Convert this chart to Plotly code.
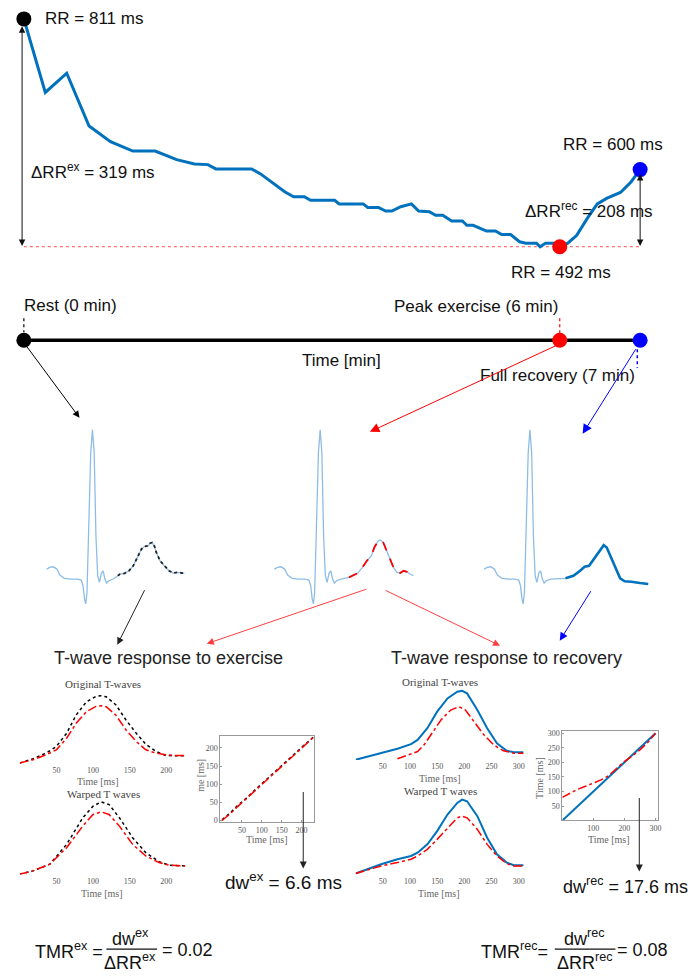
import plotly.graph_objects as go

W, H = 693, 976
SANS = "Liberation Sans, Arial, sans-serif"
SERIF = "Liberation Serif, Times New Roman, serif"
MBLUE = "#0072BD"
ECG_LIGHT = "#8dbde6"

# ---------------- data ----------------
# RR tachogram (schematic time axis, minutes) and RR in ms
rr_time_min = [0.0, 0.24, 0.48, 0.73, 0.97, 1.22, 1.47, 1.71, 1.91, 2.06, 2.15, 2.55, 2.65,
               2.82, 2.92, 3.02, 3.14, 3.21, 3.48, 3.53, 3.80, 3.85, 3.97, 4.05, 4.12, 4.22,
               4.34, 4.42, 4.54, 4.61, 4.69, 4.79, 4.91, 4.96, 5.03, 5.18, 5.28, 5.35, 5.45,
               5.55, 5.62, 5.74, 5.78, 5.84, 5.93, 6.0, 6.09, 6.19, 6.31, 6.42, 6.53, 6.68,
               6.80, 6.9]
rr_ms = [811, 708, 735, 661, 639, 626, 626, 614, 608, 607, 601, 601, 594,
         578, 569, 562, 562, 557, 557, 552, 552, 547, 547, 542, 542, 548,
         552, 542, 541, 536, 536, 528, 528, 522, 522, 514, 514, 509, 509,
         499, 497, 497, 492, 497, 497, 492, 497, 508, 532, 552, 560, 568,
         583, 600]
rr_key_time = [0, 6, 6.9]
rr_key_ms = [811, 492, 600]
rr_key_colors = ["black", "red", "blue"]
rr_min_ms = 492
timeline_time = [0, 6, 6.9]

# Single ECG beat (ms relative to R peak, mV)
ecg_qrs_ms = [-184, -172, -158, -143, -131, -113, -86, -59, -45, -38, -32, -27, -22, -14,
              -7, 0, 7, 14, 21, 28, 36, 43, 50, 57, 66, 84]
ecg_qrs_mv = [0.10, 0.117, 0.123, 0.10, 0.04, 0.007, 0, 0, -0.01, -0.067, -0.2, -0.25, -0.133,
              0.6, 1.267, 1.5, 1.267, 0.433, 0.033, -0.033, 0.06, 0.083, 0, -0.04, -0.017, 0]
tw_rest_ms = [102, 111, 129, 147, 164, 182, 197, 209, 224, 232, 240, 249, 257, 272, 290,
              308, 325, 343, 361, 370]
tw_rest_mv = [0.033, 0.05, 0.057, 0.083, 0.133, 0.217, 0.3, 0.327, 0.333, 0.36, 0.367,
              0.333, 0.267, 0.183, 0.133, 0.083, 0.06, 0.067, 0.06, 0.06]
tw_peak_ms = [116, 134, 152, 170, 188, 206, 218, 233, 241, 254, 268, 283, 295, 309, 322,
              336, 349, 361, 376]
tw_peak_mv = [0.017, 0.04, 0.06, 0.117, 0.183, 0.233, 0.317, 0.383, 0.393, 0.367, 0.283,
              0.183, 0.117, 0.067, 0.06, 0.083, 0.073, 0.05, 0.033]
tw_rec_ms = [143, 175, 202, 220, 238, 256, 274, 297, 309, 327, 345, 363, 381, 408, 443, 476]
tw_rec_mv = [0.007, 0.033, 0.083, 0.123, 0.133, 0.2, 0.267, 0.34, 0.317, 0.217, 0.117,
             0.007, -0.023, -0.027, -0.04, -0.05]

# Exercise: original and warped T-waves (normalised amplitude)
ex_orig_t = [0, 18, 36, 50, 64, 77, 91, 104, 111, 118, 131, 145, 159, 172, 186, 199, 213, 226]
ex_orig_rest = [0, 0.064, 0.147, 0.245, 0.441, 0.711, 0.907, 0.985, 0.995, 0.98, 0.863,
                0.637, 0.441, 0.279, 0.172, 0.113, 0.108, 0.108]
ex_orig_peak = [0, 0.049, 0.123, 0.196, 0.368, 0.588, 0.76, 0.838, 0.848, 0.833, 0.711,
                0.49, 0.319, 0.196, 0.147, 0.123, 0.113, 0.113]
ex_warp_t = [0, 18, 41, 64, 86, 100, 111, 122, 136, 154, 172, 190, 204, 226]
ex_warp_rest = [0, 0.046, 0.138, 0.413, 0.78, 0.94, 1.0, 0.963, 0.78, 0.505, 0.298, 0.174,
                0.124, 0.115]
ex_warp_peak = [0, 0.046, 0.138, 0.367, 0.665, 0.826, 0.862, 0.826, 0.665, 0.413, 0.252,
                0.161, 0.124, 0.115]
ex_path_t = [0, 20, 40, 60, 80, 100, 120, 140, 160, 180, 200, 230]
ex_path_rest = [2, 20, 42, 60, 81, 101, 122, 143, 161, 181, 201, 230]
ex_path_peak = [0, 18, 39, 59, 79, 99, 119, 140, 159, 179, 199, 229]

# Recovery: original and warped T-waves
rec_orig_t = [0, 22, 47, 77, 102, 114, 132, 150, 169, 187, 196, 205, 224, 242, 260, 278, 291, 309]
rec_orig_full = [0, 0.048, 0.096, 0.159, 0.226, 0.288, 0.457, 0.697, 0.889, 0.986, 1.0,
                 0.962, 0.721, 0.457, 0.24, 0.13, 0.111, 0.111]
rec_orig_peak_t = [77, 96, 114, 126, 138, 157, 175, 190, 202, 218, 236, 254, 272, 291, 309]
rec_orig_peak = [0.014, 0.072, 0.12, 0.216, 0.361, 0.577, 0.721, 0.769, 0.721, 0.553,
                 0.361, 0.216, 0.13, 0.096, 0.096]
rec_warp_t = [0, 22, 47, 77, 102, 114, 132, 150, 169, 187, 196, 205, 224, 242, 260, 278, 291, 309]
rec_warp_full = [0.009, 0.067, 0.133, 0.2, 0.244, 0.289, 0.4, 0.578, 0.8, 0.956, 1.0, 0.978,
                 0.778, 0.489, 0.267, 0.156, 0.12, 0.12]
rec_warp_peak = [0.009, 0.058, 0.111, 0.156, 0.2, 0.244, 0.333, 0.467, 0.622, 0.756, 0.778,
                 0.756, 0.6, 0.4, 0.244, 0.142, 0.111, 0.111]
rec_path_t = [0, 25, 50, 75, 100, 125, 150, 175, 200, 225, 250, 275, 300]
rec_path_full = [0, 25, 50, 75, 100, 125, 150, 175, 200, 225, 250, 275, 300]
rec_path_peak = [80, 95, 108, 118, 128, 140, 155, 180, 203, 222, 243, 268, 300]

# ---------------- helpers ----------------
layout = {}
annotations = []
shapes = []
traces = []


def lin(pa, va, pb, vb, p):
    return va + (p - pa) * (vb - va) / (pb - pa)


def add_axes(idx, box, xmap, ymap, xstyle=None, ystyle=None):
    left, top, right, bottom = box
    (pxa, vxa), (pxb, vxb) = xmap
    (pya, vya), (pyb, vyb) = ymap
    xr = [lin(pxa, vxa, pxb, vxb, left), lin(pxa, vxa, pxb, vxb, right)]
    yr = [lin(pya, vya, pyb, vyb, bottom), lin(pya, vya, pyb, vyb, top)]
    sfx = "" if idx == 1 else str(idx)
    xs = dict(domain=[left / W, right / W], range=xr, anchor="y" + sfx,
              showgrid=False, zeroline=False)
    ys = dict(domain=[1 - bottom / H, 1 - top / H], range=yr, anchor="x" + sfx,
              showgrid=False, zeroline=False)
    xs.update(xstyle or dict(visible=False))
    ys.update(ystyle or dict(visible=False))
    layout["xaxis" + sfx] = xs
    layout["yaxis" + sfx] = ys
    return "x" + sfx, "y" + sfx


def P(x, y):
    return x / W, 1 - y / H


def label(x, y, text, size=17, family=SANS, color="#111", xanchor="center",
          yanchor="middle", angle=0):
    px, py = P(x, y)
    annotations.append(dict(x=px, y=py, xref="paper", yref="paper", text=text,
                            showarrow=False, xanchor=xanchor, yanchor=yanchor,
                            textangle=angle, font=dict(size=size, family=family, color=color)))


def arrow(x0, y0, x1, y1, color, width=1.0, head=2, size=1.0, side="end"):
    px, py = P(x1, y1)
    annotations.append(dict(x=px, y=py, xref="paper", yref="paper", ax=x0 - x1, ay=y0 - y1,
                            axref="pixel", ayref="pixel", text="", showarrow=True,
                            arrowhead=head, arrowsize=size, arrowwidth=width,
                            arrowcolor=color, arrowside=side, standoff=0, startstandoff=0))


def seg(x0, y0, x1, y1, color, width=1.0, dash="solid"):
    a, b = P(x0, y0)
    c, d = P(x1, y1)
    shapes.append(dict(type="line", xref="paper", yref="paper", x0=a, y0=b, x1=c, y1=d,
                       line=dict(color=color, width=width, dash=dash)))


def line(xa, ya, x, y, color, width=1.5, dash="solid", mode="lines", **kw):
    traces.append(go.Scatter(x=x, y=y, xaxis=xa, yaxis=ya, mode=mode,
                             line=dict(color=color, width=width, dash=dash),
                             hoverinfo="skip", cliponaxis=False, **kw))


# ---------------- RR tachogram ----------------
xa, ya = add_axes(1, (0, 0, W, 290), ((24, 0), (563, 6)), ((17, 811), (246, 492)))
line(xa, ya, [rr_time_min[0], rr_key_time[-1]], [rr_min_ms, rr_min_ms],
     "rgba(255,0,0,0.7)", width=1, dash="dot")
line(xa, ya, rr_time_min, rr_ms, MBLUE, width=3)
traces.append(go.Scatter(x=rr_key_time, y=rr_key_ms, xaxis=xa, yaxis=ya, mode="markers",
                         marker=dict(size=15, color=rr_key_colors), cliponaxis=False,
                         hoverinfo="skip"))
for xv, top_v in [(-0.02, 803), (6.9, 596)]:
    annotations.append(dict(x=xv, y=rr_min_ms + 1, xref=xa, yref=ya, ax=xv, ay=top_v,
                            axref=xa, ayref=ya, text="", showarrow=True, arrowhead=2,
                            arrowsize=1.3, arrowwidth=1, arrowcolor="#111",
                            arrowside="end+start", standoff=0, startstandoff=0))
label(43, 17, "RR = 811 ms", xanchor="left")
label(29, 170, "ΔRR<sup>ex</sup> = 319 ms", xanchor="left")
label(617, 143, "RR = 600 ms")
label(592, 209, "ΔRR<sup>rec</sup> = 208 ms")
label(564, 272, "RR = 492 ms")

# ---------------- timeline ----------------
xa2, ya2 = add_axes(2, (0, 300, W, 380), ((24, 0), (563, 6)), ((340, 0), (330, 1)))
line(xa2, ya2, [timeline_time[0], timeline_time[-1]], [0, 0], "black", width=3.5)
traces.append(go.Scatter(x=timeline_time, y=[0, 0, 0], xaxis=xa2, yaxis=ya2, mode="markers",
                         marker=dict(size=15, color=rr_key_colors), cliponaxis=False,
                         hoverinfo="skip"))
seg(24, 318, 24, 332, "black", 1.2, "dot")
seg(563, 318, 563, 333, "red", 1.2, "dot")
seg(641, 349, 641, 368, "blue", 1.5, "dot")
label(22, 305, "Rest (0 min)", xanchor="left")
label(563, 306, "Peak exercise (6 min)", xanchor="right")
label(343, 360, "Time [min]")
label(561, 375, "Full recovery (7 min)")
arrow(26, 345, 80, 418, "black", 1, 2, 1.4)
arrow(560, 345, 372, 432, "red", 1, 2, 1.9)
arrow(640, 348, 586, 434, "blue", 1, 2, 1.9)

# ---------------- ECG beats ----------------
ecg_defs = [
    (93, 40, 195, tw_rest_ms, tw_rest_mv, "#222", 1.8, "dot"),
    (322, 265, 430, tw_peak_ms, tw_peak_mv, "red", 1.8, "dash"),
    (533, 465, 665, tw_rec_ms, tw_rec_mv, MBLUE, 2.6, "solid"),
]
for k, (rpx, lft, rgt, tms, tmv, col, w, dsh) in enumerate(ecg_defs):
    xe, ye = add_axes(3 + k, (lft, 420, rgt, 615), ((rpx, 0), (rpx + 1, 4)),
                      ((580, 0), (579, 0.01)))
    line(xe, ye, ecg_qrs_ms + tms, ecg_qrs_mv + tmv, ECG_LIGHT, width=1.3)
    line(xe, ye, tms, tmv, col, width=w, dash=dsh)

arrow(146, 590, 118, 646, "#222", 1, 2, 1.4)
arrow(369, 590, 208, 645, "rgba(255,0,0,0.75)", 1, 2, 1.4)
arrow(387, 591, 503, 647, "rgba(255,0,0,0.75)", 1, 2, 1.4)
arrow(595, 591, 563, 642, "blue", 1, 2, 1.6)

label(169, 659, "T-wave response to exercise", size=18, color="#222")
label(509, 659, "T-wave response to recovery", size=18, color="#222")

# ---------------- small T-wave panels ----------------
TICKF = dict(size=8, family=SERIF, color="#555")


def tick_x(vals):
    return dict(visible=True, showline=False, ticks="", showticklabels=True,
                tickvals=vals, tickfont=TICKF)


def box_axis(vals):
    return dict(visible=True, showline=True, mirror=True, linecolor="#999", linewidth=1,
                ticks="inside", ticklen=2, tickcolor="#999", tickvals=vals, tickfont=TICKF)


xe1, ye1 = add_axes(6, (19.8, 690, 186.7, 766), ((56.7, 50), (167.3, 200)),
                    ((765, 0), (697, 1)), xstyle=tick_x([50, 100, 150, 200]))
line(xe1, ye1, ex_orig_t, ex_orig_rest, "black", 1.5, "dot")
line(xe1, ye1, ex_orig_t, ex_orig_peak, "red", 1.5, "dashdot")

xe2, ye2 = add_axes(7, (19.8, 800, 186.7, 877), ((56.7, 50), (167.3, 200)),
                    ((876.7, 0), (804, 1)), xstyle=tick_x([50, 100, 150, 200]))
line(xe2, ye2, ex_warp_t, ex_warp_rest, "black", 1.5, "dot")
line(xe2, ye2, ex_warp_t, ex_warp_peak, "red", 1.5, "dashdot")

xr1, yr1 = add_axes(8, (357.7, 680, 526.7, 762), ((385, 50), (521.7, 300)),
                    ((761.7, 0), (692.3, 1)), xstyle=tick_x([50, 100, 150, 200, 250, 300]))
line(xr1, yr1, rec_orig_t, rec_orig_full, MBLUE, 2)
line(xr1, yr1, rec_orig_peak_t, rec_orig_peak, "red", 1.5, "dashdot")

xr2, yr2 = add_axes(9, (357.7, 795, 526.7, 877), ((385, 50), (521.7, 300)),
                    ((876.7, 0), (801.7, 1)), xstyle=tick_x([50, 100, 150, 200, 250, 300]))
line(xr2, yr2, rec_warp_t, rec_warp_full, MBLUE, 2)
line(xr2, yr2, rec_warp_t, rec_warp_peak, "red", 1.5, "dashdot")

# warping paths
xw1, yw1 = add_axes(10, (221.7, 737.3, 316, 824.3), ((243.3, 50), (303.3, 200)),
                    ((822.7, 0), (749.7, 200)), xstyle=box_axis([50, 100, 150, 200]),
                    ystyle=box_axis([0, 50, 100, 150, 200]))
line(xw1, yw1, ex_path_t, ex_path_rest, "black", 1.5, "dot")
line(xw1, yw1, ex_path_t, ex_path_peak, "red", 1.5, "dashdot")

xw2, yw2 = add_axes(11, (565.7, 732.7, 661.7, 822.7), ((596.7, 100), (659.3, 300)),
                    ((808.3, 50), (735, 300)), xstyle=box_axis([100, 200, 300]),
                    ystyle=box_axis([50, 100, 150, 200, 250, 300]))
line(xw2, yw2, rec_path_t, rec_path_full, MBLUE, 2)
line(xw2, yw2, rec_path_t, rec_path_peak, "red", 1.5, "dashdot")

# panel titles / axis titles (serif)
for (x, y, t) in [(104, 686, "Original T-waves"), (104, 796, "Warped T waves"),
                  (443, 683, "Original T-waves"), (443, 793, "Warped T waves")]:
    label(x, y, t, size=11, family=SERIF, color="#444")
for (x, y) in [(99, 784), (103, 896), (443, 781), (442, 896), (269, 842), (613, 842)]:
    label(x, y, "Time [ms]", size=10, family=SERIF, color="#666")
label(201, 777, "me [ms]", size=10, family=SERIF, color="#666", angle=-90)
label(542, 780, "Time [ms]", size=10, family=SERIF, color="#666", angle=-90)

arrow(305, 793, 305, 871, "#222", 1, 2, 1.4)
arrow(643, 799, 643, 874, "#222", 1, 2, 1.4)
label(224, 884, "dw<sup>ex</sup> = 6.6 ms", size=19, xanchor="left")
label(564, 888, "dw<sup>rec</sup> = 17.6 ms", size=18, xanchor="left")

# ---------------- TMR formulas ----------------
label(33, 953, "TMR<sup>ex</sup> =", size=18, xanchor="left")
label(131, 940, "dw<sup>ex</sup>", size=18)
seg(107, 952, 158, 952, "#111", 1.2)
label(131, 964, "ΔRR<sup>ex</sup>", size=18)
label(161, 953, "= 0.02", size=18, xanchor="left")

label(482, 953, "TMR<sup>rec</sup>=", size=18, xanchor="left")
label(588, 940, "dw<sup>rec</sup>", size=18)
seg(558, 952, 619, 952, "#111", 1.2)
label(588, 964, "ΔRR<sup>rec</sup>", size=18)
label(619, 953, "= 0.08", size=18, xanchor="left")

fig = go.Figure(data=traces)
fig.update_layout(**layout)
fig.update_layout(width=W, height=H, margin=dict(l=0, r=0, t=0, b=0),
                  paper_bgcolor="white", plot_bgcolor="rgba(0,0,0,0)",
                  showlegend=False, annotations=annotations, shapes=shapes,
                  font=dict(family=SANS))
fig.write_html("out.html", config={"displayModeBar": False},
               post_script="document.body.style.margin='0';document.body.style.overflow='hidden';")
